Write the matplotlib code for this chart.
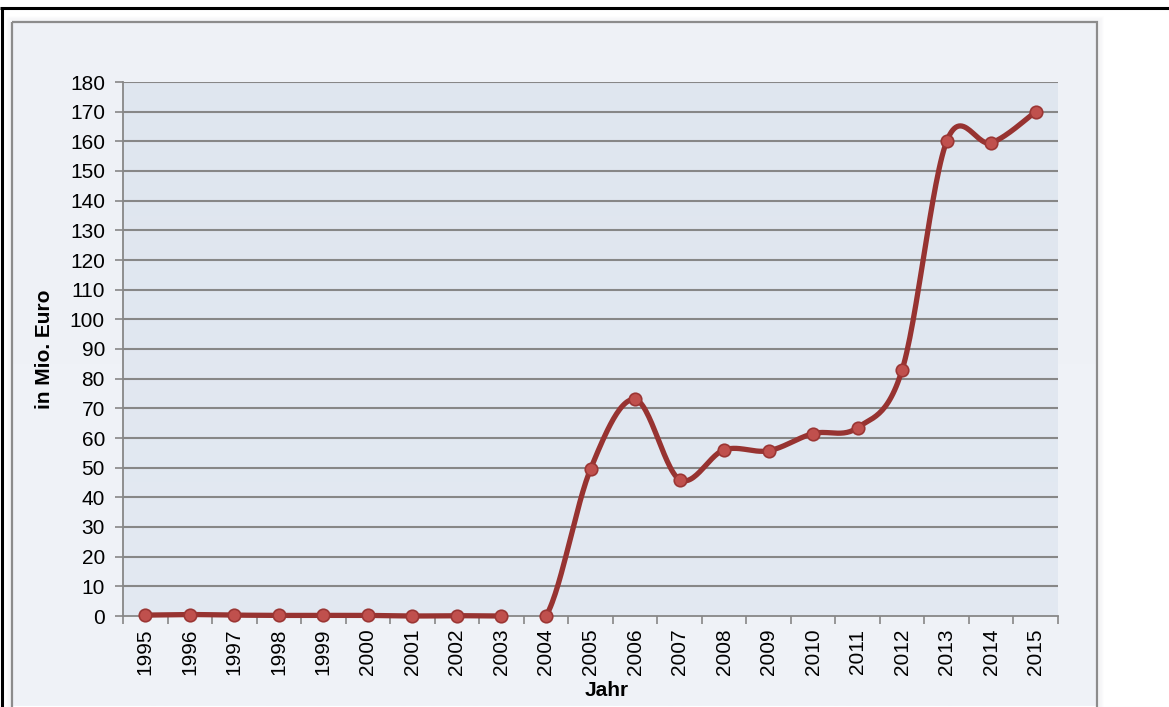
import numpy as np
import matplotlib
matplotlib.use("Agg")
import matplotlib.pyplot as plt
from matplotlib.patches import Rectangle

plt.rcParams['font.family'] = ['Liberation Sans', 'DejaVu Sans']

years = ["1995", "1996", "1997", "1998", "1999", "2000", "2001", "2002", "2003", "2004",
         "2005", "2006", "2007", "2008", "2009", "2010", "2011", "2012", "2013", "2014", "2015"]
values = [0.3, 0.5, 0.3, 0.2, 0.2, 0.2, 0.0, 0.1, 0.0, 0.0,
          49.5, 73.0, 46.0, 56.0, 55.7, 61.5, 63.5, 83.0, 160.0, 159.5, 170.0]
hidden_segment = 8  # segment 2003 -> 2004 is not drawn
y_ticks = list(range(0, 181, 10))

W, H = 1169, 707
fig = plt.figure(figsize=(W / 100, H / 100), dpi=100)
fig.patch.set_facecolor('white')

bg = fig.add_axes([0, 0, 1, 1])
bg.set_xlim(0, W)
bg.set_ylim(H, 0)
bg.axis('off')

bg.plot([0, W], [8, 8], color='black', lw=2.2, solid_capstyle='butt')
bg.plot([2, 2], [8, H], color='black', lw=2.2, solid_capstyle='butt')

for i, a in enumerate([0.03, 0.025, 0.02, 0.015, 0.01]):
    d = i + 1
    bg.add_patch(Rectangle((12 - d, 22 - d), 1085 + 2 * d, 700 + 2 * d,
                           facecolor='none', edgecolor=(0.4, 0.45, 0.55, a), lw=2))

panel_grad = np.linspace(0, 1, 256).reshape(-1, 1)
c_top = np.array([0xee, 0xf1, 0xf6]) / 255
c_bot = np.array([0xf0, 0xf3, 0xf8]) / 255
img = c_top + (c_bot - c_top) * panel_grad[..., None]
bg.imshow(img, extent=(12, 1097, 706, 22), aspect='auto', zorder=1)
bg.add_patch(Rectangle((12, 22), 1085, 690, facecolor='none', edgecolor='#8c8c8c', lw=1.6, zorder=2))

L, R, T, B = 123, 1058, 82, 616
ax = fig.add_axes([L / W, (H - B) / H, (R - L) / W, (B - T) / H])
n = len(years)
ax.set_xlim(-0.5, n - 0.5)
ax.set_ylim(0, 180)

grad = np.linspace(0, 1, 256).reshape(-1, 1)
a_top = np.array([0xdf, 0xe6, 0xef]) / 255
a_bot = np.array([0xe3, 0xe9, 0xf2]) / 255
img2 = a_top + (a_bot - a_top) * grad[..., None]
ax.imshow(img2, extent=(-0.5, n - 0.5, 0, 180), aspect='auto', zorder=0)

for yv in y_ticks[1:]:
    ax.axhline(yv, color='#878787', lw=1.5, zorder=1)

for s in ['top', 'right']:
    ax.spines[s].set_visible(False)
ax.spines['left'].set_color('#878787')
ax.spines['bottom'].set_color('#878787')
ax.spines['left'].set_linewidth(1.3)
ax.spines['bottom'].set_linewidth(1.3)
ax.spines['bottom'].set_zorder(1)

ax.set_yticks(y_ticks)
ax.set_yticklabels([str(v) for v in y_ticks], fontsize=15)
ax.tick_params(axis='y', length=6, width=1.2, color='#878787', pad=7)

xs = np.arange(n)
ax.set_xticks(xs)
ax.set_xticklabels(years, rotation=90, fontsize=15)
ax.tick_params(axis='x', which='major', length=0, pad=9)
ax.set_xticks(np.arange(-0.5, n, 1.0), minor=True)
ax.tick_params(axis='x', which='minor', length=6, width=1.2, color='#878787')


def smooth_segments(x, y, steps=30):
    x = np.asarray(x, float)
    y = np.asarray(y, float)
    px = np.concatenate([[x[0]], x, [x[-1]]])
    py = np.concatenate([[y[0]], y, [y[-1]]])
    segs = []
    for i in range(1, len(px) - 2):
        p0 = np.array([px[i - 1], py[i - 1]])
        p1 = np.array([px[i], py[i]])
        p2 = np.array([px[i + 1], py[i + 1]])
        p3 = np.array([px[i + 2], py[i + 2]])
        c1 = p1 + (p2 - p0) / 6.0
        c2 = p2 - (p3 - p1) / 6.0
        t = np.linspace(0, 1, steps)[:, None]
        pts = ((1 - t) ** 3) * p1 + 3 * ((1 - t) ** 2) * t * c1 + 3 * (1 - t) * t ** 2 * c2 + t ** 3 * p2
        segs.append(pts)
    return segs


line_col = '#973331'
segs = smooth_segments(xs, values)
parts = [segs[:hidden_segment], segs[hidden_segment + 1:]]
for part in parts:
    pts = np.vstack(part)
    ax.plot(pts[:, 0], pts[:, 1], color=line_col, lw=3.8, solid_capstyle='round',
            solid_joinstyle='round', zorder=3, clip_on=False)
ax.plot(xs, values, linestyle='none', marker='o', markersize=9,
        markerfacecolor='#c0504d', markeredgecolor='#9b3634', markeredgewidth=1.2,
        zorder=4, clip_on=False)

fig.text(44 / W, 1 - 349 / H, 'in Mio. Euro', rotation=90, ha='center', va='center',
         fontsize=15, fontweight='bold')
fig.text(607 / W, 1 - 690 / H, 'Jahr', ha='center', va='center',
         fontsize=15, fontweight='bold')

fig.savefig('out.png', dpi=100, facecolor='white')
